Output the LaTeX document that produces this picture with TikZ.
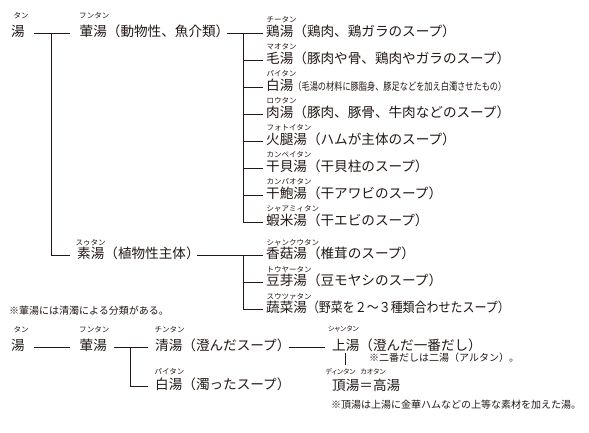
\documentclass[tikz,border=0pt]{standalone}
\usepackage{fontspec}
\usepackage{graphicx}
\setmainfont{Noto Sans CJK JP}
\newfontfamily\rubyfont[RawFeature=+palt]{Noto Sans CJK JP}
\definecolor{ink}{HTML}{231815}
\begin{document}
\begin{tikzpicture}[x=1pt,y=-1pt,
  txt/.style={inner sep=0pt,anchor=west,text height=11.6pt,text depth=4.26pt,font=\fontsize{13.6pt}{14pt}\selectfont,text=ink},
  rb/.style={inner sep=0pt,anchor=west,text height=6.6pt,text depth=0.9pt,font=\fontsize{7.5pt}{7.5pt}\selectfont,text=ink},
  rbp/.style={inner sep=0pt,anchor=center,text height=6.2pt,text depth=0.9pt,font=\rubyfont\fontsize{7pt}{7pt}\selectfont,text=ink},
  nt/.style={inner sep=0pt,anchor=west,text height=8.8pt,text depth=1.2pt,font=\fontsize{10pt}{11pt}\selectfont,text=ink},
  ln/.style={draw=ink,line width=0.9pt}]
\useasboundingbox[fill=white] (0,0) rectangle (589,433);

% ---------- upper tree ----------
\node[txt] (t1) at (11,33) {湯};
\node[rb] (rt1) at (13.5,15.7) {タン};
\node[txt] (a1) at (79.5,33) {葷湯（動物性、魚介類）};
\node[rb] (ra1) at (79,15.7) {フンタン};

\node[txt] (c1) at (266,33) {鶏湯（鶏肉、鶏ガラのスープ）};
\node[rb] (rc1) at (266.5,20) {チータン};
\node[txt] (c2) at (266,60) {毛湯（豚肉や骨、鶏肉やガラのスープ）};
\node[rb] (rc2) at (266.5,47) {マオタン};
\node[txt] (c3) at (266,87) {白湯\scalebox{0.78}[1]{\fontsize{10.5pt}{11pt}\selectfont（毛湯の材料に豚脂身、豚足などを加え白濁させたもの）}};
\node[rb] (rc3) at (266.5,74) {パイタン};
\node[txt] (c4) at (266,114) {肉湯（豚肉、豚骨、牛肉などのスープ）};
\node[rb] (rc4) at (266.5,101) {ロウタン};
\node[txt] (c5) at (266,141) {火腿湯（ハムが主体のスープ）};
\node[rb] (rc5) at (266.5,128) {フォトイタン};
\node[txt] (c6) at (266,168) {干貝湯（干貝柱のスープ）};
\node[rb] (rc6) at (266.5,155) {カンペイタン};
\node[txt] (c7) at (266,195) {干鮑湯（干アワビのスープ）};
\node[rb] (rc7) at (266.5,182) {カンパオタン};
\node[txt] (c8) at (266,222) {蝦米湯（干エビのスープ）};
\node[rb] (rc8) at (266.5,209) {シャアミィタン};

\node[txt] (a2) at (77,255) {素湯（植物性主体）};
\node[rb] (ra2) at (75.5,243) {スゥタン};
\node[txt] (d1) at (266,255) {香菇湯（椎茸のスープ）};
\node[rb] (rd1) at (266.5,242.5) {シャンクウタン};
\node[txt] (d2) at (266,282) {豆芽湯（豆モヤシのスープ）};
\node[rb] (rd2) at (266.5,269.5) {トウヤータン};
\node[txt] (d3) at (266,309) {蔬菜湯\scalebox{0.88}[1]{（野菜を２～３種類合わせたスープ）}};
\node[rb] (rd3) at (266.5,296.5) {スウツァタン};

\node[nt] (n1) at (9,311) {※葷湯には清濁による分類がある。};

\coordinate (j1) at (51.7,33);
\coordinate (j2) at (243.5,33);
\coordinate (j3) at (243.5,255);

\draw[ln] ([xshift=9.4pt]t1.east) -- ([xshift=-10pt]a1.west);
\draw[ln] (j1) |- ([xshift=-7pt]a2.west);
\draw[ln] ([xshift=-3pt]a1.east) -- ([xshift=-3.5pt]c1.west);
\draw[ln] (j2) |- ([xshift=-3.5pt]c8.west);
\foreach \c in {c2,c3,c4,c5,c6,c7}
  \draw[ln] (\c.west -| j2) -- ([xshift=-3.5pt]\c.west);
\draw[ln] ([xshift=-2.7pt]a2.east) -- ([xshift=-3.5pt]d1.west);
\draw[ln] (j3) |- ([xshift=-3.5pt]d3.west);
\draw[ln] (d2.west -| j3) -- ([xshift=-3.5pt]d2.west);

% ---------- lower tree ----------
\node[txt] (t2) at (11,347) {湯};
\node[rb] (rt2) at (13.5,329.7) {タン};
\node[txt] (b1) at (79.5,347) {葷湯};
\node[rb] (rb1) at (79,329.7) {フンタン};
\node[txt] (e1) at (155,347) {清湯（澄んだスープ）};
\node[rb] (re1) at (154.5,329.5) {チンタン};
\node[txt] (e2) at (155,386) {白湯（濁ったスープ）};
\node[rb] (re2) at (154.5,371.7) {パイタン};
\node[txt] (f1) at (332,347) {上湯（澄んだ一番だし）};
\node[rbp] (rf1) at (343.3,329) {シャンタン};
\node[nt] (n2) at (369,357.5) {※二番だしは二湯（アルタン）。};
\node[txt] (f2) at (332,387) {頂湯＝高湯};
\node[rbp] (rf2) at (340.5,372.3) {ディンタン};
\node[rbp] (rf3) at (373,372.3) {カオタン};
\node[nt] (n3) at (331,404.5) {※頂湯は上湯に金華ハムなどの上等な素材を加えた湯。};

\coordinate (j4) at (130.7,347);
\coordinate (k1) at (345.7,352.7);
\coordinate (k2) at (345.7,365);

\draw[ln] ([xshift=9.4pt]t2.east) -- ([xshift=-10pt]b1.west);
\draw[ln] ([xshift=6.6pt]b1.east) -- ([xshift=-7pt]e1.west);
\draw[ln] (j4) |- ([xshift=-7pt]e2.west);
\draw[ln] ([xshift=-2pt]e1.east) -- ([xshift=-7pt]f1.west);
\draw[ln] (k1) -- (k2);
\end{tikzpicture}
\end{document}
